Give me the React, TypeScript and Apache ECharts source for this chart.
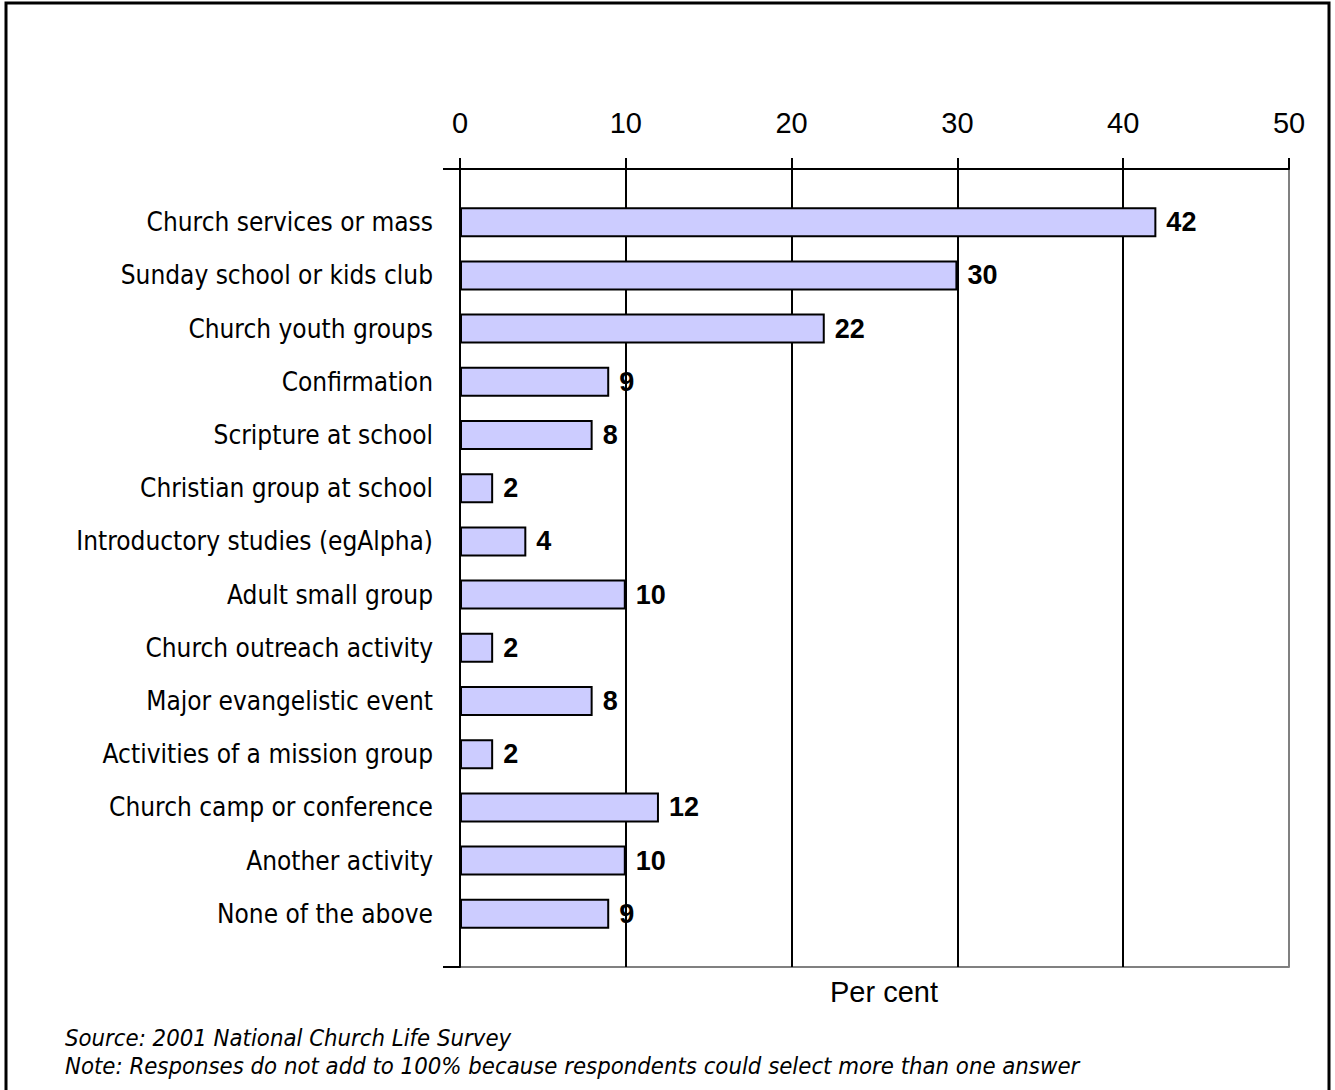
import React, { useEffect, useRef } from "react";
import * as echarts from "echarts";

const categories = [
  "Church services or mass",
  "Sunday school or kids club",
  "Church youth groups",
  "Confirmation",
  "Scripture at school",
  "Christian group at school",
  "Introductory studies (egAlpha)",
  "Adult small group",
  "Church outreach activity",
  "Major evangelistic event",
  "Activities of a mission group",
  "Church camp or conference",
  "Another activity",
  "None of the above",
];
const values = [42, 30, 22, 9, 8, 2, 4, 10, 2, 8, 2, 12, 10, 9];
const xMin = 0;
const xMax = 50;
const xInterval = 10;
const axisTitle = "Per cent";
const sourceText = "Source: 2001 National Church Life Survey";
const noteText =
  "Note: Responses do not add to 100% because respondents could select more than one answer";

const LABEL_FONT = "'DejaVu Sans Condensed', 'DejaVu Sans', Tahoma, sans-serif";
const NUM_FONT = "'Liberation Sans', Arial, sans-serif";

export default function App() {
  const ref = useRef<HTMLDivElement>(null);
  useEffect(() => {
    if (!ref.current) return;
    const chart = echarts.init(ref.current, undefined, { renderer: "svg" });
    const left = 460;
    const width = 829;
    const frameTop = 169;
    const frameBottom = 967;
    const band = (frameBottom - frameTop) / 15;
    chart.setOption({
      animation: false,
      backgroundColor: "#ffffff",
      grid: [
        {
          left,
          width,
          top: frameTop,
          height: frameBottom - frameTop,
          show: false,
        },
        {
          left,
          width,
          top: frameTop + band / 2,
          height: band * 14,
        },
      ],
      xAxis: [
        {
          gridIndex: 0,
          type: "value",
          position: "top",
          min: xMin,
          max: xMax,
          interval: xInterval,
          axisLine: { show: true, onZero: false, lineStyle: { color: "#000", width: 2 } },
          axisTick: { show: true, length: 11, lineStyle: { color: "#000", width: 2 } },
          axisLabel: {
            show: true,
            margin: 32,
            fontSize: 29,
            color: "#000",
            fontFamily: NUM_FONT,
          },
          splitLine: {
            show: true,
            lineStyle: {
              color: ["#000", "#000", "#000", "#000", "#000", "#808080"],
              width: 2,
            },
          },
          z: 2,
        },
        {
          gridIndex: 1,
          type: "value",
          min: xMin,
          max: xMax,
          interval: xInterval,
          show: false,
        },
        {
          gridIndex: 0,
          type: "value",
          position: "bottom",
          min: xMin,
          max: xMax,
          interval: xInterval,
          axisLine: { show: true, onZero: false, lineStyle: { color: "#808080", width: 2 } },
          axisTick: { show: false },
          axisLabel: { show: false },
          splitLine: { show: false },
          z: 1,
        },
      ],
      yAxis: [
        {
          gridIndex: 0,
          type: "value",
          position: "left",
          min: 0,
          max: 1,
          interval: 1,
          axisLine: { show: true, onZero: false, lineStyle: { color: "#000", width: 2 } },
          axisTick: { show: true, length: 17, lineStyle: { color: "#000", width: 2 } },
          axisLabel: { show: false },
          splitLine: { show: false },
          z: 3,
        },
        {
          gridIndex: 1,
          type: "category",
          inverse: true,
          data: categories,
          axisLine: { show: false },
          axisTick: { show: false },
          axisLabel: {
            margin: 27,
            fontSize: 26,
            color: "#000",
            fontFamily: LABEL_FONT,
          },
        },
      ],
      series: [
        {
          type: "bar",
          xAxisIndex: 1,
          yAxisIndex: 1,
          data: values,
          barWidth: 30,
          itemStyle: { color: "#ccccff", borderColor: "#000", borderWidth: 2 },
          label: {
            show: true,
            position: "right",
            distance: 10,
            fontSize: 27,
            fontWeight: "bold",
            color: "#000",
            fontFamily: NUM_FONT,
          },
          z: 3,
        },
      ],
      graphic: [
        {
          type: "rect",
          shape: { x: 6, y: 3, width: 1323, height: 1095 },
          style: { fill: "none", stroke: "#000", lineWidth: 3 },
          silent: true,
        },
        {
          type: "text",
          x: 884,
          y: 992,
          style: {
            text: axisTitle,
            fill: "#000",
            fontSize: 29,
            fontFamily: NUM_FONT,
            textAlign: "center",
            textVerticalAlign: "middle",
          },
        },
        {
          type: "text",
          x: 65,
          y: 1038,
          style: {
            text: sourceText,
            fill: "#000",
            fontSize: 23.7,
            fontStyle: "italic",
            fontFamily: LABEL_FONT,
            textAlign: "left",
            textVerticalAlign: "middle",
          },
        },
        {
          type: "text",
          x: 65,
          y: 1066,
          style: {
            text: noteText,
            fill: "#000",
            fontSize: 23.7,
            fontStyle: "italic",
            fontFamily: LABEL_FONT,
            textAlign: "left",
            textVerticalAlign: "middle",
          },
        },
      ],
    });
    return () => chart.dispose();
  }, []);
  return (
    <div
      ref={ref}
      style={{ position: "absolute", left: 0, top: 0, width: 1335, height: 1090 }}
    />
  );
}
